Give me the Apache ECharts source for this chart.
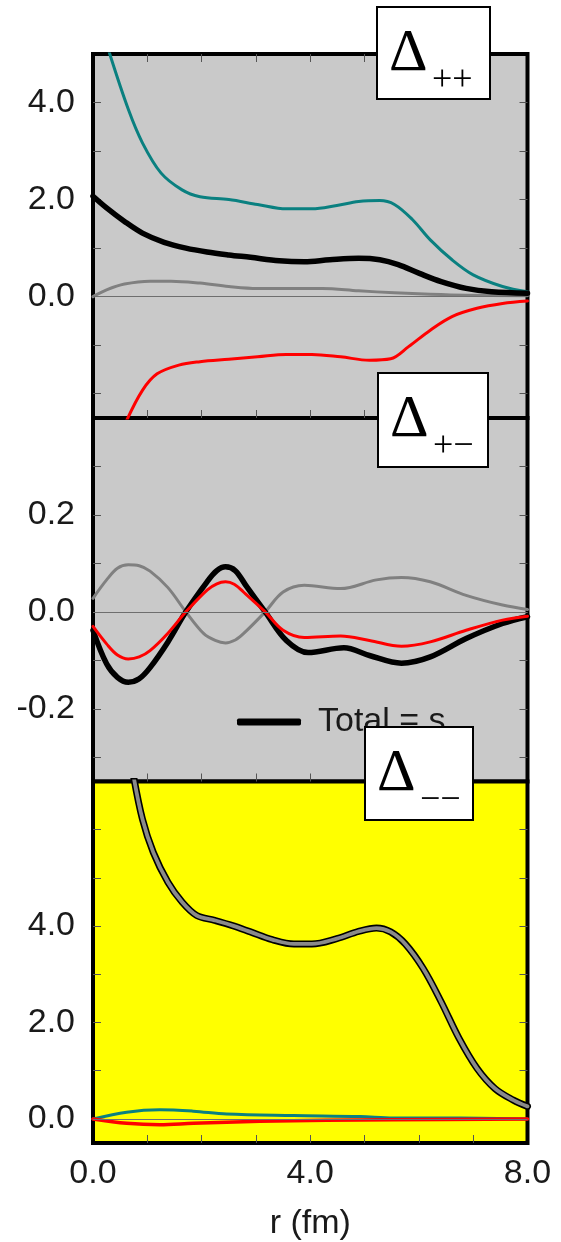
<!DOCTYPE html>
<html>
<head>
<meta charset="utf-8">
<script src="https://cdn.jsdelivr.net/npm/echarts@6/dist/echarts.min.js"></script>
<style>
  html, body { margin: 0; padding: 0; background: #fff; }
  #chart { width: 561px; height: 1242px; }
</style>
</head>
<body>
<div id="chart"></div>
<script>
// r (fm) sample positions and values for each component, one panel at a time

// Δ++ panel
const ppTealR  = [0.3, 0.65, 0.91, 1.25, 1.64, 1.97, 2.5, 3.03, 3.56, 4.03, 4.49, 4.89, 5.28, 5.55, 5.88, 6.21, 6.61, 7.0, 7.54, 8.0];
const ppTealV  = [5.03, 3.86, 3.17, 2.55, 2.2, 2.06, 2.0, 1.9, 1.81, 1.81, 1.88, 1.96, 1.98, 1.9, 1.59, 1.17, 0.76, 0.45, 0.21, 0.1];
const ppTotalR = [0, 0.25, 0.58, 0.91, 1.31, 1.71, 2.1, 2.5, 2.9, 3.43, 3.89, 4.36, 4.89, 5.28, 5.62, 6.01, 6.41, 6.87, 7.34, 8.0];
const ppTotalV = [2.07, 1.83, 1.55, 1.31, 1.12, 1.0, 0.92, 0.86, 0.81, 0.74, 0.72, 0.76, 0.79, 0.76, 0.66, 0.48, 0.31, 0.17, 0.1, 0.07];
const ppGrayR  = [0, 0.25, 0.58, 1.05, 1.44, 1.97, 2.5, 3.03, 3.56, 4.22, 4.89, 5.55, 6.21, 6.87, 8.0];
const ppGrayV  = [0.0, 0.14, 0.26, 0.32, 0.32, 0.28, 0.21, 0.17, 0.17, 0.17, 0.12, 0.08, 0.05, 0.03, 0.02];
const ppRedR   = [0.62, 0.91, 1.18, 1.58, 1.97, 2.5, 3.03, 3.56, 4.03, 4.56, 5.09, 5.48, 5.81, 6.21, 6.61, 7.07, 7.54, 8.0];
const ppRedV   = [-2.55, -1.93, -1.59, -1.41, -1.34, -1.29, -1.24, -1.19, -1.19, -1.24, -1.31, -1.28, -1.03, -0.69, -0.41, -0.24, -0.14, -0.09];

// Δ+− panel
const pmGrayR  = [0, 0.25, 0.45, 0.65, 0.85, 1.05, 1.38, 1.71, 2.04, 2.25, 2.44, 2.62, 2.77, 3.17, 3.5, 3.89, 4.56, 5.22, 5.68, 6.21, 6.87, 7.54, 8.0];
const pmGrayV  = [0.028, 0.066, 0.09, 0.097, 0.095, 0.084, 0.05, 0.0, -0.045, -0.059, -0.064, -0.058, -0.045, 0.0, 0.041, 0.055, 0.048, 0.066, 0.071, 0.062, 0.034, 0.014, 0.005];
const pmRedR   = [0, 0.25, 0.45, 0.65, 0.85, 1.05, 1.38, 1.71, 2.1, 2.28, 2.44, 2.6, 2.77, 3.17, 3.5, 3.89, 4.56, 5.09, 5.68, 6.21, 6.87, 7.54, 8.0];
const pmRedV   = [-0.03, -0.066, -0.089, -0.097, -0.093, -0.08, -0.044, 0.0, 0.045, 0.058, 0.062, 0.057, 0.041, 0.0, -0.038, -0.053, -0.05, -0.059, -0.071, -0.062, -0.038, -0.017, -0.009];
const pmTotalR = [0, 0.25, 0.45, 0.65, 0.85, 1.05, 1.38, 1.71, 2.1, 2.28, 2.44, 2.62, 2.83, 3.17, 3.56, 3.96, 4.62, 5.09, 5.68, 6.21, 6.87, 7.54, 8.0];
const pmTotalV = [-0.038, -0.107, -0.135, -0.145, -0.138, -0.115, -0.062, 0.0, 0.062, 0.085, 0.093, 0.085, 0.052, 0.0, -0.059, -0.084, -0.074, -0.09, -0.106, -0.093, -0.055, -0.024, -0.01];

// Δ−− panel
const mmTotalR = [0.74, 0.91, 1.11, 1.38, 1.64, 1.91, 2.24, 2.57, 2.9, 3.3, 3.7, 4.03, 4.49, 4.89, 5.22, 5.48, 5.75, 6.08, 6.41, 6.74, 7.07, 7.4, 7.74, 8.0];
const mmTotalV = [7.15, 6.22, 5.53, 4.91, 4.5, 4.22, 4.12, 4.01, 3.88, 3.72, 3.63, 3.63, 3.74, 3.89, 3.96, 3.88, 3.63, 3.12, 2.43, 1.67, 1.05, 0.63, 0.39, 0.26];
const mmGrayR  = [0.74, 0.91, 1.11, 1.38, 1.64, 1.91, 2.24, 2.57, 2.9, 3.3, 3.7, 4.03, 4.49, 4.89, 5.22, 5.48, 5.75, 6.08, 6.41, 6.74, 7.07, 7.4, 7.74, 8.0];
const mmGrayV  = [7.15, 6.22, 5.53, 4.91, 4.5, 4.22, 4.12, 4.01, 3.88, 3.72, 3.63, 3.63, 3.74, 3.89, 3.96, 3.88, 3.63, 3.12, 2.43, 1.67, 1.05, 0.63, 0.39, 0.26];
const mmTealR  = [0, 0.62, 1.23, 1.85, 2.46, 3.69, 4.92, 5.53, 6.76, 8.0];
const mmTealV  = [0, 0.14, 0.19, 0.16, 0.1, 0.07, 0.05, 0.02, 0.02, 0.0];
const mmRedR   = [0, 0.62, 1.23, 1.85, 3.07, 4.3, 5.53, 8.0];
const mmRedV   = [0, -0.09, -0.12, -0.09, -0.05, -0.03, -0.02, 0.0];

// axis ticks and labels
const xTicks = [1, 2, 3, 4, 5, 6, 7];
const xLabels = [0, 4, 8];
const ppTicks = [-2, -1, 0, 1, 2, 3, 4];
const ppLabels = [0, 2, 4];
const pmTicks = [-0.3, -0.2, -0.1, 0, 0.1, 0.2, 0.3];
const pmLabels = [-0.2, 0, 0.2];
const mmTicks = [0, 1, 2, 3, 4, 5, 6];
const mmLabels = [0, 2, 4];

const FONT = 'Liberation Sans';
const zip = (xs, ys) => xs.map((x, i) => [x, ys[i]]);

const chart = echarts.init(document.getElementById('chart'), null, { renderer: 'canvas' });

const panels = [
  { top: 54,    height: 364,   bg: '#c9c9c9', min: -2.5,  max: 5.0, ticks: ppTicks, labels: ppLabels },
  { top: 418,   height: 363.5, bg: '#c9c9c9', min: -0.35, max: 0.4, ticks: pmTicks, labels: pmLabels },
  { top: 781.5, height: 363.5, bg: '#ffff00', min: -0.5,  max: 7.0, ticks: mmTicks, labels: mmLabels }
];

const tickStyle = { inside: true, length: 8, lineStyle: { color: '#555', width: 1 } };
const noLine = { show: false, onZero: false };

const grid = panels.map(p => ({
  left: 93, right: 33.5, top: p.top, height: p.height,
  show: true, backgroundColor: p.bg, borderColor: '#000', borderWidth: 4
}));

// x axes: 0..2 along the lower frame of each panel, 3 along the top of the first
const xAxis = [];
panels.forEach((p, i) => {
  const last = i === panels.length - 1;
  xAxis.push({
    type: 'value', gridIndex: i, position: 'bottom', min: 0, max: 8,
    axisLine: noLine, splitLine: { show: false },
    axisTick: Object.assign({ customValues: xTicks }, tickStyle),
    axisLabel: last ? {
      customValues: xLabels, margin: 14, fontSize: 34, fontFamily: FONT, color: '#1a1a1a',
      formatter: v => Number(v).toFixed(1)
    } : { show: false },
    name: last ? 'r (fm)' : '', nameLocation: 'middle', nameGap: 64,
    nameTextStyle: { fontSize: 34, fontFamily: FONT, color: '#1a1a1a' }
  });
});
xAxis.push({
  type: 'value', gridIndex: 0, position: 'top', min: 0, max: 8,
  axisLine: noLine, splitLine: { show: false },
  axisTick: Object.assign({ customValues: xTicks }, tickStyle),
  axisLabel: { show: false }
});

// y axes: left (labelled) and right (ticks only) for each panel -> indices 2i, 2i+1
const yAxis = [];
panels.forEach((p, i) => {
  yAxis.push({
    type: 'value', gridIndex: i, position: 'left', min: p.min, max: p.max,
    axisLine: noLine, splitLine: { show: false },
    axisTick: Object.assign({ customValues: p.ticks }, tickStyle),
    axisLabel: {
      customValues: p.labels, margin: 18, fontSize: 34, fontFamily: FONT, color: '#1a1a1a',
      formatter: v => Number(v).toFixed(1)
    }
  });
  yAxis.push({
    type: 'value', gridIndex: i, position: 'right', min: p.min, max: p.max,
    axisLine: noLine, splitLine: { show: false },
    axisTick: Object.assign({ customValues: p.ticks }, tickStyle),
    axisLabel: { show: false }
  });
});

const zeroLine = {
  silent: true, symbol: 'none', label: { show: false },
  lineStyle: { color: '#6e6e6e', width: 1, type: 'solid' },
  data: [{ yAxis: 0 }]
};

function curve(name, panel, xs, ys, color, width, extra) {
  return Object.assign({
    name, type: 'line', xAxisIndex: panel, yAxisIndex: panel * 2,
    data: zip(xs, ys), smooth: 0.35, showSymbol: false, symbol: 'none',
    lineStyle: { color, width, cap: 'round', join: 'round' },
    itemStyle: { color }, silent: true, clip: true
  }, extra || {});
}

const series = [
  // Δ++
  curve('Δ++ grey', 0, ppGrayR, ppGrayV, '#808080', 3, { markLine: zeroLine }),
  curve('Δ++ red', 0, ppRedR, ppRedV, '#ff0000', 3),
  curve('Δ++ teal', 0, ppTealR, ppTealV, '#0a8080', 3),
  curve('Δ++ total', 0, ppTotalR, ppTotalV, '#000000', 5.5),
  // Δ+−
  curve('Δ+− grey', 1, pmGrayR, pmGrayV, '#808080', 3, { markLine: zeroLine }),
  curve('Total = s', 1, pmTotalR, pmTotalV, '#000000', 5.5),
  curve('Δ+− red', 1, pmRedR, pmRedV, '#ff0000', 3),
  // Δ−−
  curve('Δ−− total', 2, mmTotalR, mmTotalV, '#000000', 7, { markLine: zeroLine }),
  curve('Δ−− grey', 2, mmGrayR, mmGrayV, '#8a8a8a', 3.8),
  curve('Δ−− teal', 2, mmTealR, mmTealV, '#0a8080', 3),
  curve('Δ−− red', 2, mmRedR, mmRedV, '#ff0000', 3.5)
];

function labelBox(x, y, w, h, sub) {
  return {
    type: 'group', z: 100,
    children: [
      { type: 'rect', shape: { x, y, width: w, height: h }, style: { fill: '#fff', stroke: '#000', lineWidth: 2 }, z: 100 },
      { type: 'text', x: x + 12, y: y + 47, z: 101,
        style: { text: 'Δ', font: '60px "Liberation Serif"', fill: '#000', textVerticalAlign: 'middle' } },
      { type: 'text', x: x + 55, y: y + 74, z: 101,
        style: { text: sub, font: '36px "Liberation Serif"', fill: '#000', textVerticalAlign: 'middle' } }
    ]
  };
}

chart.setOption({
  animation: false,
  backgroundColor: '#fff',
  grid, xAxis, yAxis, series,
  legend: {
    data: ['Total = s'], selectedMode: false,
    left: 232, top: 700, icon: 'roundRect', itemWidth: 64, itemHeight: 7,
    textStyle: { fontSize: 34, fontFamily: FONT, color: '#1a1a1a', padding: [0, 0, 0, 12] }
  },
  graphic: [
    labelBox(377, 7, 113, 92, '++'),
    labelBox(378, 373, 110, 94, '+−'),
    labelBox(365, 727, 108, 93, '−−')
  ]
});
</script>
</body>
</html>
